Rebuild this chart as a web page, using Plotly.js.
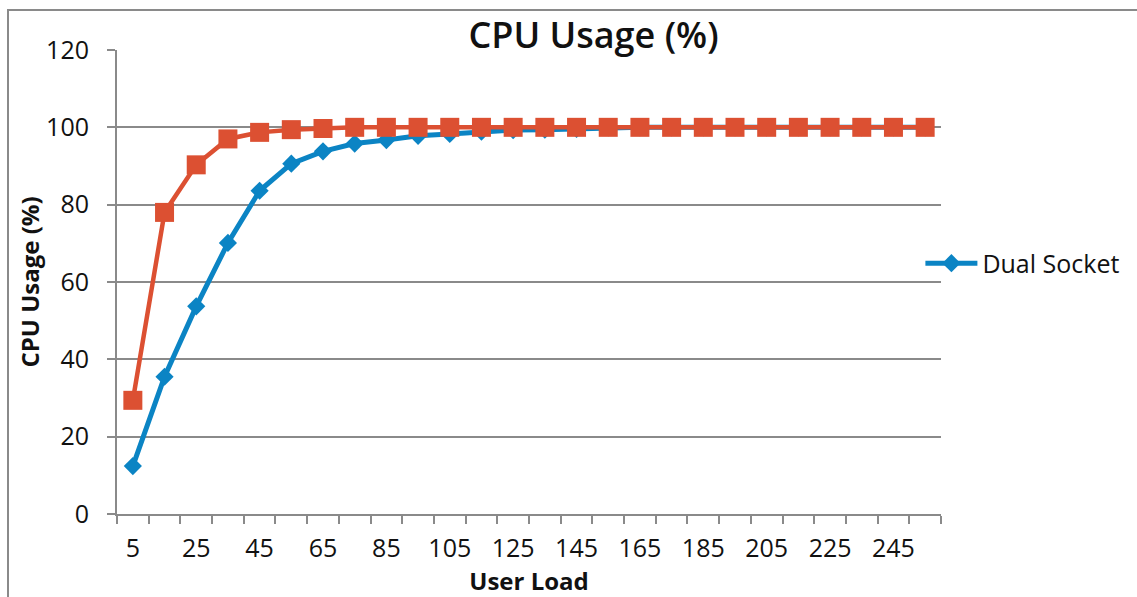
<!DOCTYPE html>
<html>
<head>
<meta charset="utf-8">
<script src="https://cdn.plot.ly/plotly-3.0.1.min.js"></script>
<style>
  html, body { margin: 0; padding: 0; background: #fff; }
  #wrap { position: relative; width: 1137px; height: 597px; overflow: hidden; }
  #chart { width: 1137px; height: 597px; }
  #frame { position: absolute; left: 7px; top: 9px; width: 1200px; height: 700px;
           border-left: 2px solid #8a8a8a; border-top: 2px solid #8a8a8a; pointer-events: none; }
</style>
</head>
<body>
<div id="wrap">
  <div id="chart"></div>
  <div id="frame"></div>
</div>
<script>
const userLoad = [5, 15, 25, 35, 45, 55, 65, 75, 85, 95, 105, 115, 125, 135, 145, 155, 165, 175, 185, 195, 205, 215, 225, 235, 245, 255];
const dualSocket = [12.4, 35.5, 53.7, 70.1, 83.6, 90.6, 93.8, 95.8, 96.7, 97.8, 98.3, 98.9, 99.3, 99.4, 99.6, 100, 100, 100, 100, 100, 100, 100, 100, 100, 100, 100];
const singleSocket = [29.4, 78.0, 90.3, 97.0, 98.7, 99.4, 99.7, 100, 100, 100, 100, 100, 100, 100, 100, 100, 100, 100, 100, 100, 100, 100, 100, 100, 100, 100];
const chartTitle = 'CPU Usage (%)';
const xTitle = 'User Load';
const yTitle = 'CPU Usage (%)';

const FONT = '"Open Sans", Lato, sans-serif';
const BLUE = '#0b84c4';
const RED = '#dc5032';
const GRID = '#8a8a8a';
const TXT = '#111';

const traces = [
  {
    x: userLoad, y: dualSocket, name: 'Dual Socket', type: 'scatter', mode: 'lines+markers',
    line: { color: BLUE, width: 5 },
    marker: { symbol: 'diamond', size: 14, color: BLUE },
    showlegend: true
  },
  {
    x: userLoad, y: singleSocket, name: 'Single Socket', type: 'scatter', mode: 'lines+markers',
    line: { color: RED, width: 4.5 },
    marker: { symbol: 'square', size: 19, color: RED },
    showlegend: false
  }
];

const layout = {
  width: 1137, height: 597,
  margin: { l: 117, r: 196, t: 50, b: 83 },
  paper_bgcolor: '#fff', plot_bgcolor: '#fff',
  font: { family: FONT, color: TXT, size: 25 },
  title: { text: chartTitle, font: { family: FONT, size: 36, color: TXT, weight: 600 },
           x: 0.522, xanchor: 'center', y: 0.94, yanchor: 'middle' },
  xaxis: {
    type: 'linear', range: [0, 260],
    tick0: 5, dtick: 20, ticks: '', showgrid: false, zeroline: false,
    showline: true, linecolor: GRID, linewidth: 2,
    ticklabelstandoff: 11,
    tickfont: { family: FONT, size: 25, color: TXT },
    minor: { tick0: 0, dtick: 10, ticks: 'outside', ticklen: 8, tickcolor: GRID, tickwidth: 2, showgrid: false },
    title: { text: xTitle, font: { family: FONT, size: 24, color: TXT, weight: 700 }, standoff: 4 }
  },
  yaxis: {
    range: [0, 120], dtick: 20, tick0: 0,
    showgrid: true, gridcolor: GRID, gridwidth: 2, zeroline: false,
    showline: true, linecolor: GRID, linewidth: 2,
    ticks: 'outside', ticklen: 8, tickcolor: GRID, tickwidth: 2,
    ticklabelstandoff: 13,
    tickfont: { family: FONT, size: 25, color: TXT },
    title: { text: yTitle, font: { family: FONT, size: 24, color: TXT, weight: 700 }, standoff: 0 }
  },
  legend: {
    x: 0.975, xanchor: 'left', y: 0.54, yanchor: 'middle',
    font: { family: FONT, size: 25, color: TXT },
    bgcolor: 'rgba(0,0,0,0)', itemwidth: 52
  },
  showlegend: true
};

Plotly.newPlot('chart', traces, layout, { staticPlot: true, displayModeBar: false });
</script>
</body>
</html>
